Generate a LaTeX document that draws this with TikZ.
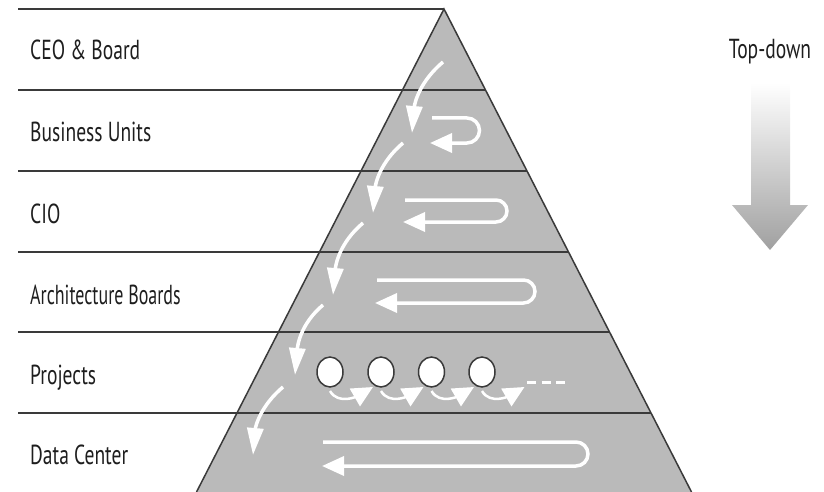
\documentclass[tikz,border=0pt]{standalone}
\usepackage{fontspec}
\setmainfont{PT Sans}
\newfontfamily\lblfont{PT Sans}[FakeStretch=0.71]
\usetikzlibrary{arrows.meta,shapes.geometric,calc}
\definecolor{pyr}{HTML}{BABABA}
\definecolor{ink}{HTML}{1E1E1E}
\definecolor{rule}{HTML}{3A3A3A}
\definecolor{arrowgray}{HTML}{A0A0A0}
\begin{document}
\begin{tikzpicture}[x=1pt,y=-1pt,
  lbl/.style={anchor=base west, text=ink, font=\lblfont\fontsize{27.5}{30}\selectfont, inner sep=0pt},
  band/.style={draw=rule, line width=2pt},
  flow/.style={draw=white, line width=3.5pt, -{Triangle[length=27pt,width=16pt]}},
  loopar/.style={draw=white, line width=3.5pt, -{Triangle[length=22pt,width=19pt]}},
  hop/.style={draw=white, line width=2.5pt, -{Triangle[length=21pt,width=20pt]}},
  proj/.style={ellipse, draw=rule, fill=white, line width=1.5pt, minimum width=26pt, minimum height=30pt, inner sep=0pt}]
\useasboundingbox (0,0) rectangle (824,492);
% pyramid
\coordinate (apex) at (444,9);
\coordinate (bl) at (196.5,492);
\coordinate (br) at (691.5,492);
\fill[pyr] (apex) -- (bl) -- (br) -- cycle;
\draw[rule, line width=1.5pt] (bl) -- (apex) -- (br);
% band lines
\draw[band] (18,9) -- (apex);
\draw[band] (18,90) -- (485.5,90);
\draw[band] (18,171) -- (527,171);
\draw[band] (18,252) -- (568.5,252);
\draw[band] (18,332) -- (609.5,332);
\draw[band] (18,413) -- (651,413);
% labels
\node[lbl] (l1) at (30,60) {CEO \& Board};
\node[lbl] (l2) at (30,142) {Business Units};
\node[lbl] (l3) at (30,223) {CIO};
\node[lbl] (l4) at (30,304) {\scalebox{0.92}[1]{Architecture Boards}};
\node[lbl] (l5) at (30,384) {Projects};
\node[lbl] (l6) at (30,464) {Data Center};
% top-down
\node[lbl, anchor=base] (td) at (770,59) {Top-down};
\shade[top color=white, bottom color=arrowgray] (751,83) -- (790,83) -- (790,205) -- (808,205) -- (770,250) -- (732,205) -- (751,205) -- cycle;
% descending arrows
\coordinate (a1s) at (443,62);  \coordinate (a1e) at (412,133);
\coordinate (a2s) at (403,143); \coordinate (a2e) at (373,213);
\coordinate (a3s) at (363,223); \coordinate (a3e) at (333,295);
\coordinate (a4s) at (323,305); \coordinate (a4e) at (295,375);
\coordinate (a5s) at (283,387); \coordinate (a5e) at (253,455);
\draw[flow] (a1s) to[out=220,in=85] (a1e);
\draw[flow] (a2s) to[out=220,in=85] (a2e);
\draw[flow] (a3s) to[out=220,in=85] (a3e);
\draw[flow] (a4s) to[out=220,in=85] (a4e);
\draw[flow] (a5s) to[out=220,in=85] (a5e);
% hairpin arrows
\draw[loopar] (432,118) -- (467,118) arc[start angle=-90,end angle=90,radius=12.5] -- (430,143);
\draw[loopar] (405,200) -- (496,200) arc[start angle=-90,end angle=90,radius=11] -- (403,222);
\draw[loopar] (377,280) -- (523.5,280) arc[start angle=-90,end angle=90,radius=11.5] -- (375,303);
\draw[loopar] (323,442) -- (576,442) arc[start angle=-90,end angle=90,radius=12] -- (322,466);
% projects
\node[proj] (p1) at (330,372) {};
\node[proj] (p2) at (381,372) {};
\node[proj] (p3) at (431.5,372) {};
\node[proj] (p4) at (482,372) {};
\coordinate (p5) at (532.5,372);
\draw[hop] ($(p1)+(0,19)$) to[out=-60,in=210] ($(p2)+(-8,15)$);
\draw[hop] ($(p2)+(0,19)$) to[out=-60,in=210] ($(p3)+(-8,15)$);
\draw[hop] ($(p3)+(0,19)$) to[out=-60,in=210] ($(p4)+(-8,15)$);
\draw[hop] ($(p4)+(0,19)$) to[out=-60,in=210] ($(p5)+(-8,15)$);
\coordinate (d1) at (527,382);
\coordinate (d2) at (565,382);
\draw[white, line width=3pt, dash pattern=on 9pt off 5.5pt] (d1) -- (d2);
\end{tikzpicture}
\end{document}
